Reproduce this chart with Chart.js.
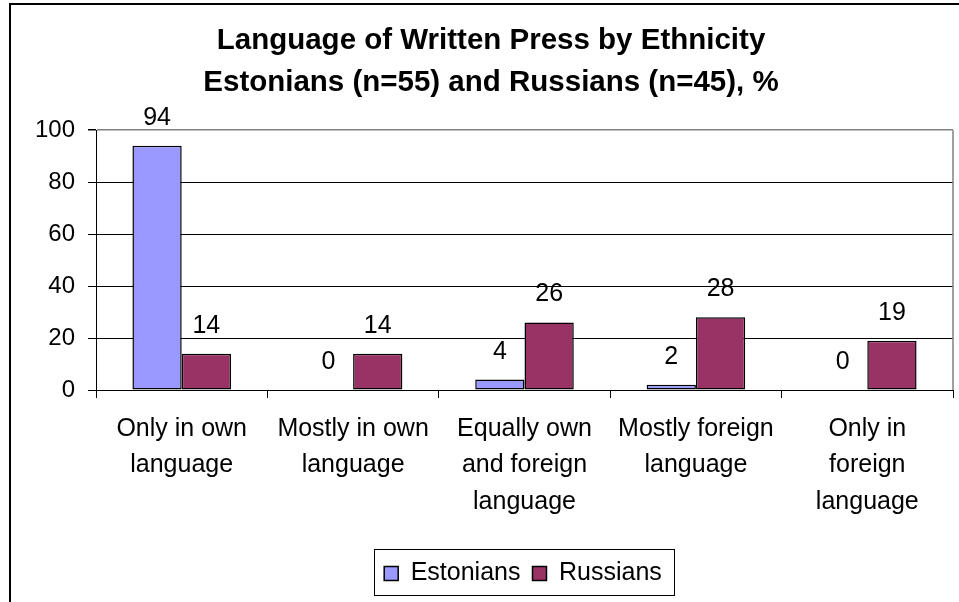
<!DOCTYPE html>
<html>
<head>
<meta charset="utf-8">
<script src="https://cdn.jsdelivr.net/npm/chart.js@4"></script>
<style>
  html, body { margin: 0; padding: 0; background: #fff; overflow: hidden; }
  #frame { position: absolute; left: 9px; top: 3px; width: 1000px; height: 700px; border: 2px solid #000; }
  #wrap { position: relative; width: 960px; height: 597px; }
</style>
</head>
<body>
<div id="frame">
  <div id="wrap"><canvas id="chart"></canvas></div>
</div>
<script>
const categories = [
  ["Only in own", "language"],
  ["Mostly in own", "language"],
  ["Equally own", "and foreign", "language"],
  ["Mostly foreign", "language"],
  ["Only in", "foreign", "language"]
];
const estonians = [94, 0, 4, 2, 0];
const russians = [14, 14, 26, 28, 19];
const yTicks = [0, 20, 40, 60, 80, 100];

const FONT = "'Liberation Sans', Arial, sans-serif";

// labels above bars, like excel "outside end"
const valueLabels = {
  id: "valueLabels",
  afterDatasetsDraw(chart) {
    const ctx = chart.ctx;
    ctx.save();
    ctx.font = "25px " + FONT;
    ctx.fillStyle = "#000";
    ctx.textAlign = "center";
    ctx.textBaseline = "alphabetic";
    chart.data.datasets.forEach((ds, i) => {
      chart.getDatasetMeta(i).data.forEach((bar, j) => {
        ctx.fillText(String(ds.data[j]), bar.x, bar.y - 21);
      });
    });
    ctx.restore();
  }
};

// grey plot border on the right + box round the legend
const frames = {
  id: "frames",
  afterLayout(chart) {
    chart.legend.left += 32;
    chart.legend.right += 32;
  },
  beforeDatasetsDraw(chart) {
    const { ctx, chartArea: a } = chart;
    ctx.save();
    ctx.strokeStyle = "#808080";
    ctx.lineWidth = 1.5;
    ctx.beginPath();
    ctx.moveTo(a.right, a.top);
    ctx.lineTo(a.right, a.bottom);
    ctx.stroke();
    ctx.restore();
  },
  afterDraw(chart) {
    const lg = chart.legend;
    const hb = lg.legendHitBoxes;
    if (!hb || !hb.length) return;
    const left = hb[0].left - 10;
    const right = hb[hb.length - 1].left + hb[hb.length - 1].width + 12;
    const ctx = chart.ctx;
    ctx.save();
    ctx.strokeStyle = "#000";
    ctx.lineWidth = 1;
    ctx.strokeRect(Math.round(left) + 0.5, Math.round(lg.top) + 0.5, Math.round(right - left), Math.round(lg.bottom - lg.top) - 1);
    ctx.restore();
  }
};

const noZeroBorder = (c) => (c.raw === 0 ? 0 : 1.5);

new Chart(document.getElementById("chart"), {
  type: "bar",
  data: {
    labels: categories,
    datasets: [
      {
        label: "Estonians",
        data: estonians,
        backgroundColor: "#9999FF",
        borderColor: "#000",
        borderWidth: noZeroBorder,
        borderSkipped: false,
        categoryPercentage: 0.575,
        barPercentage: 1
      },
      {
        label: "Russians",
        data: russians,
        backgroundColor: "#993366",
        borderColor: "#000",
        borderWidth: noZeroBorder,
        borderSkipped: false,
        categoryPercentage: 0.575,
        barPercentage: 1
      }
    ]
  },
  options: {
    responsive: true,
    maintainAspectRatio: false,
    animation: false,
    devicePixelRatio: 1,
    layout: { padding: { left: 18, right: 18, top: 0, bottom: 6 } },
    plugins: {
      title: {
        display: true,
        text: ["Language of Written Press by Ethnicity", "Estonians (n=55) and Russians (n=45), %"],
        color: "#000",
        font: { family: FONT, size: 29.5, weight: "bold", lineHeight: 1.41 },
        padding: { top: 15, bottom: 27 }
      },
      legend: {
        position: "bottom",
        labels: {
          color: "#000",
          font: { family: FONT, size: 25 },
          boxWidth: 14,
          boxHeight: 14,
          padding: 12
        }
      },
      tooltip: { enabled: false }
    },
    scales: {
      x: {
        afterFit: (s) => { s.height = 159; },
        grid: { offset: true, drawOnChartArea: false, tickLength: 8, color: "#000" },
        border: { display: true, color: "#000", width: 1 },
        ticks: {
          color: "#000",
          font: { family: FONT, size: 25, lineHeight: 1.45 },
          padding: 13,
          maxRotation: 0,
          autoSkip: false
        }
      },
      y: {
        min: yTicks[0],
        max: yTicks[yTicks.length - 1],
        afterFit: (s) => { s.width = 67; },
        afterBuildTicks: (s) => { s.ticks = yTicks.map((v) => ({ value: v })); },
        grid: {
          color: (c) => (c.tick && c.tick.value === 100 ? "#808080" : "#000"),
          lineWidth: (c) => (c.tick && c.tick.value === 100 ? 1.5 : 1),
          tickColor: "#000",
          tickLength: 8
        },
        border: { display: true, color: "#000", width: 1 },
        ticks: {
          color: "#000",
          font: { family: FONT, size: 24 },
          padding: 13
        }
      }
    }
  },
  plugins: [valueLabels, frames]
});
</script>
</body>
</html>
